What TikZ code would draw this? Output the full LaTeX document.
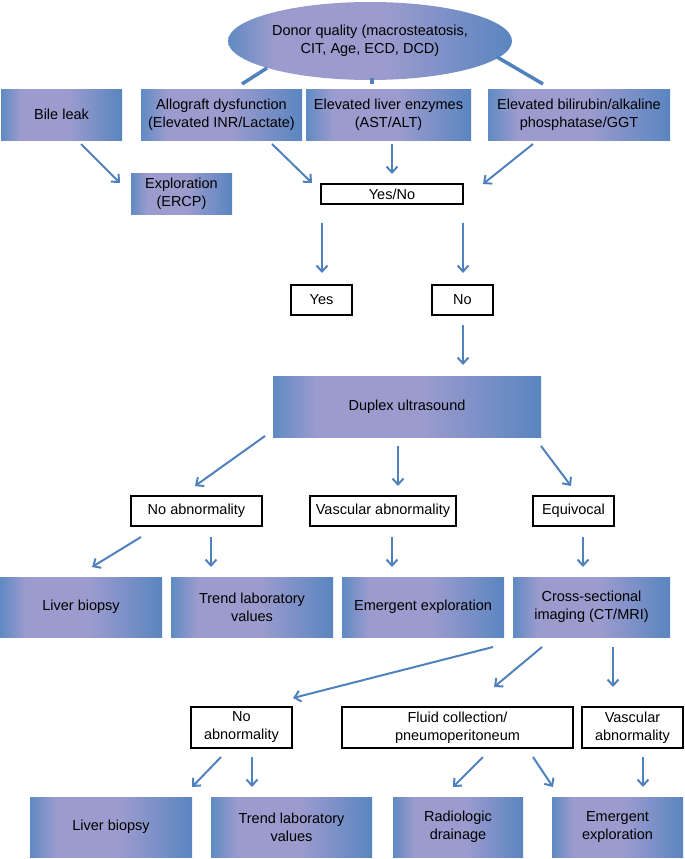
\documentclass[tikz,border=0pt]{standalone}
\usepackage{fontspec}
\setmainfont{Liberation Sans}
\usetikzlibrary{shapes.geometric,arrows.meta}
\definecolor{eb}{RGB}{96,138,195}
\definecolor{ebr}{RGB}{90,133,192}
\definecolor{lav}{RGB}{155,155,206}
\definecolor{arr}{RGB}{79,129,189}
\pgfdeclarehorizontalshading{boxshade}{100bp}{color(0bp)=(eb); color(25bp)=(eb); color(33bp)=(lav); color(53bp)=(lav); color(75bp)=(ebr); color(100bp)=(ebr)}
\tikzset{
  txt/.style={font=\fontsize{14.5}{18}\selectfont, align=center, text=black},
  sbox/.style={txt, rectangle, shading=boxshade, inner sep=0pt},
  wbox/.style={txt, rectangle, draw=black, line width=1.3pt, fill=white, inner sep=0pt},
  conn/.style={draw=arr, line width=2pt, -{Straight Barb[length=6pt,width=11pt]}},
  stub/.style={draw=arr, line width=3.5pt},
}
\begin{document}
\begin{tikzpicture}[x=1pt,y=-1pt]
\useasboundingbox (0,0) rectangle (685,859);
% donor ellipse
\node[txt, ellipse, shading=boxshade, inner sep=0pt, minimum width=284, minimum height=78] (donor) at (370,41) {Donor quality (macrosteatosis,\\CIT, Age, ECD, DCD)};
% row 1
\node[sbox, minimum width=121, minimum height=51] (bile) at (61.5,114.5) {Bile leak};
\node[sbox, minimum width=161, minimum height=51] (allo) at (221.5,114.5) {Allograft dysfunction\\(Elevated INR/Lactate)};
\node[sbox, minimum width=165, minimum height=51] (enz) at (388.5,114.5) {Elevated liver enzymes\\(AST/ALT)};
\node[sbox, minimum width=182, minimum height=51] (bili) at (579,114.5) {Elevated bilirubin/alkaline\\phosphatase/GGT};
\node[sbox, minimum width=101, minimum height=41] (ercp) at (181.5,193.5) {Exploration\\(ERCP)};
\node[wbox, minimum width=142, minimum height=20] (yn) at (392,194) {Yes/No};
\node[wbox, minimum width=61, minimum height=30] (yes) at (321.5,300) {Yes};
\node[wbox, minimum width=61, minimum height=30] (no) at (462.5,300) {No};
\node[sbox, minimum width=268, minimum height=61] (duplex) at (407,406.5) {Duplex ultrasound};
\node[wbox, minimum width=131, minimum height=30] (na1) at (196.5,511) {No abnormality};
\node[wbox, minimum width=146, minimum height=30] (va1) at (383,511) {Vascular abnormality};
\node[wbox, minimum width=81, minimum height=30] (eq) at (573.5,511) {Equivocal};
\node[sbox, minimum width=162, minimum height=60] (lb1) at (81,607) {Liver biopsy};
\node[sbox, minimum width=162, minimum height=60] (tr1) at (252,607) {Trend laboratory\\values};
\node[sbox, minimum width=162, minimum height=60] (ee1) at (423,607) {Emergent exploration};
\node[sbox, minimum width=157, minimum height=60] (cs) at (591.5,607) {Cross-sectional\\imaging (CT/MRI)};
\node[wbox, minimum width=101, minimum height=41] (na2) at (241.5,727.5) {No\\abnormality};
\node[wbox, minimum width=231, minimum height=41] (fc) at (457.5,727.5) {Fluid collection/\\pneumoperitoneum};
\node[wbox, minimum width=101, minimum height=41] (va2) at (632.5,727.5) {Vascular\\abnormality};
\node[sbox, minimum width=162, minimum height=60] (lb2) at (111,827) {Liver biopsy};
\node[sbox, minimum width=161, minimum height=60] (tr2) at (291.5,827) {Trend laboratory\\values};
\node[sbox, minimum width=130, minimum height=60] (rd) at (458,827) {Radiologic\\drainage};
\node[sbox, minimum width=131, minimum height=60] (ee2) at (617.5,827) {Emergent\\exploration};
% stubs from donor
\coordinate (s1a) at (267,68); \coordinate (s1b) at (242,84);
\coordinate (s2a) at (372,78); \coordinate (s2b) at (372,84);
\coordinate (s3a) at (497,57); \coordinate (s3b) at (543,84);
\draw[stub] (s1a) -- (s1b);
\draw[stub] (s2a) -- (s2b);
\draw[stub] (s3a) -- (s3b);
% arrow coordinates
\foreach \n/\ax/\ay/\bx/\by in {
 1/81/144/120/183, 2/272/144/312/183, 3/392/144/392/174, 4/533/144/483/184,
 5/322/223/322/273, 6/463/223/463/273, 7/463/325/463/365,
 8/265/436/195/486, 9/398/446/398/486, 10/541/446/571/486,
 11/141/537/92/567, 12/211/537/211/567, 13/392/537/392/567, 14/583/537/583/567,
 15/493/647/293/698, 16/542/647/494/687, 17/613/647/613/687,
 18/221/757/192/787, 19/252/757/252/787, 20/483/757/453/787, 21/533/757/553/787, 22/643/757/643/787}
 {\coordinate (a\n s) at (\ax,\ay); \coordinate (a\n e) at (\bx,\by);}
\foreach \n in {1,...,22} {\draw[conn] (a\n s) -- (a\n e);}
\end{tikzpicture}
\end{document}
